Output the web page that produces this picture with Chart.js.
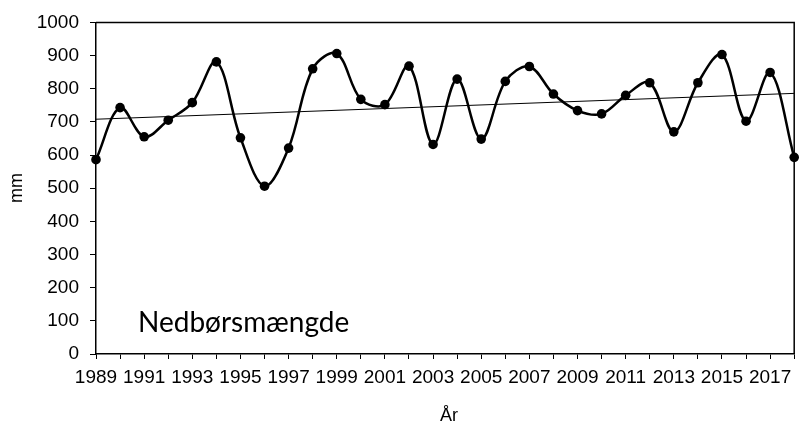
<!DOCTYPE html>
<html>
<head>
<meta charset="utf-8">
<script src="https://cdn.jsdelivr.net/npm/chart.js@4.4.0/dist/chart.umd.min.js"></script>
<style>
  html, body { margin: 0; padding: 0; background: #fff; }
  #wrap { width: 799px; height: 427px; position: relative; }
</style>
</head>
<body>
<div id="wrap"><canvas id="c" width="799" height="427"></canvas></div>
<script>
// Nedbørsmængde per år (mm)
const years = [1989, 1990, 1991, 1992, 1993, 1994, 1995, 1996, 1997, 1998,
               1999, 2000, 2001, 2002, 2003, 2004, 2005, 2006, 2007, 2008,
               2009, 2010, 2011, 2012, 2013, 2014, 2015, 2016, 2017, 2018];
const rainfall = [586, 743, 655, 705, 758, 881, 652, 506, 621, 860,
                  906, 768, 752, 868, 632, 829, 648, 822, 867, 784,
                  734, 724, 780, 818, 670, 818, 903, 702, 849, 593];

// trendlinje, endepunkter aflæst
const trendYears = [1989, 2018];
const trendValues = [708, 786];

const yTicks = [0, 100, 200, 300, 400, 500, 600, 700, 800, 900, 1000];
const labelText = 'Nedbørsmængde';

const baseFont = "'Liberation Sans', Arial, sans-serif";

// ramme + tekst i plotområdet
const framePlugin = {
  id: 'frame',
  afterDraw(chart) {
    const a = chart.chartArea;
    const ctx = chart.ctx;
    ctx.save();
    ctx.strokeStyle = '#000';
    ctx.lineWidth = 1.5;
    ctx.beginPath();
    ctx.moveTo(a.left, a.top);
    ctx.lineTo(a.right, a.top);
    ctx.lineTo(a.right, a.bottom);
    ctx.stroke();
    // stor etiket
    ctx.fillStyle = '#000';
    ctx.font = '28px Lato, sans-serif';
    ctx.textBaseline = 'alphabetic';
    ctx.textAlign = 'left';
    ctx.fillText(labelText, 138, 332);
    // aksetitler
    ctx.font = '18px ' + baseFont;
    ctx.textAlign = 'center';
    ctx.textBaseline = 'middle';
    ctx.fillText('År', 449, 416);
    ctx.translate(17, 188);
    ctx.rotate(-Math.PI / 2);
    ctx.fillText('mm', 0, 0);
    ctx.restore();
  }
};

new Chart(document.getElementById('c'), {
  type: 'line',
  data: {
    datasets: [
      {
        label: 'Nedbør',
        data: years.map((y, i) => ({ x: y, y: rainfall[i] })),
        borderColor: '#000',
        backgroundColor: '#000',
        borderWidth: 2.5,
        tension: 0.35,
        pointRadius: 4.8,
        pointBackgroundColor: '#000',
        pointBorderWidth: 0,
        clip: false
      },
      {
        label: 'Trend',
        data: trendYears.map((y, i) => ({ x: y, y: trendValues[i] })),
        borderColor: '#000',
        borderWidth: 1,
        pointRadius: 0,
        tension: 0
      }
    ]
  },
  options: {
    responsive: false,
    animation: false,
    layout: { padding: { top: 17, right: 2, left: 0, bottom: 0 } },
    plugins: {
      legend: { display: false },
      tooltip: { enabled: false }
    },
    scales: {
      x: {
        type: 'linear',
        min: 1989,
        max: 2018,
        afterFit(scale) {
          scale.height = 73;
          scale.paddingLeft = 0;
          scale.paddingRight = 0;
        },
        afterBuildTicks(scale) {
          scale.ticks = years.map(v => ({ value: v }));
        },
        border: { color: '#000', width: 1.5 },
        grid: { drawOnChartArea: false, drawTicks: true, tickLength: 5, tickColor: '#000', tickWidth: 1 },
        ticks: {
          autoSkip: false,
          maxRotation: 0,
          padding: 7,
          color: '#000',
          font: { family: baseFont, size: 19 },
          callback: v => (v % 2 === 1 && v < 2018) ? String(v) : ''
        }
      },
      y: {
        min: 0,
        max: 1000,
        afterFit(scale) { scale.width = 96; },
        afterBuildTicks(scale) {
          scale.ticks = yTicks.map(v => ({ value: v }));
        },
        border: { color: '#000', width: 1.5 },
        grid: { drawOnChartArea: false, drawTicks: true, tickLength: 6, tickColor: '#000', tickWidth: 1 },
        ticks: {
          padding: 11,
          color: '#000',
          font: { family: baseFont, size: 19 },
          callback: v => String(v)
        }
      }
    }
  },
  plugins: [framePlugin]
});
</script>
</body>
</html>
